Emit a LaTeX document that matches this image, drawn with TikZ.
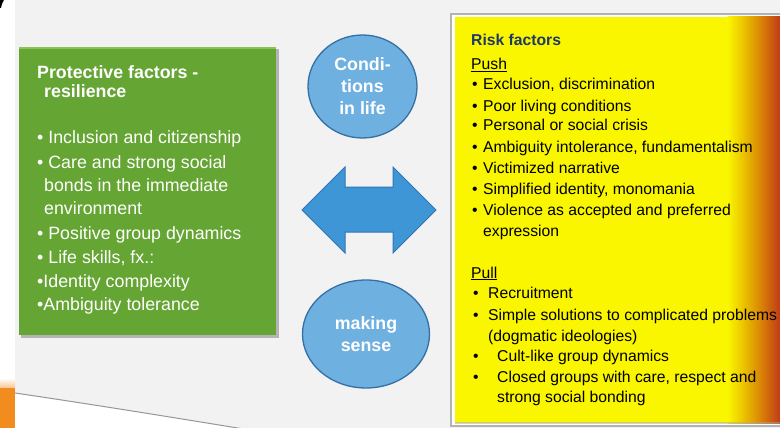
\documentclass[tikz,border=0pt]{standalone}
\usepackage{fontspec}
\setmainfont{Liberation Sans}
\usetikzlibrary{shapes.geometric}
\definecolor{bggrey}{RGB}{242,242,242}
\definecolor{boxgreen}{RGB}{101,165,51}
\definecolor{greenlight}{RGB}{140,196,82}
\definecolor{circfill}{RGB}{110,176,224}
\definecolor{circline}{RGB}{52,112,165}
\definecolor{arrfill}{RGB}{62,150,214}
\definecolor{arrline}{RGB}{48,118,180}
\definecolor{ylw}{RGB}{250,246,0}
\definecolor{ylw2}{RGB}{234,190,0}
\definecolor{orng}{RGB}{216,128,6}
\definecolor{redd}{RGB}{193,58,26}
\definecolor{riskblue}{RGB}{31,56,100}
\definecolor{orangebar}{RGB}{242,140,30}
\definecolor{curveline}{RGB}{150,150,150}
\newcommand\bul[1]{\makebox[#1pt][l]{•}}
\begin{document}
\begin{tikzpicture}[x=1pt,y=-1pt,
  gtext/.style={anchor=base west, inner sep=0, text=white, font=\fontsize{17.8}{21}\selectfont},
  gtitle/.style={gtext, font=\fontsize{17.8}{21}\selectfont\bfseries},
  ytext/.style={anchor=base west, inner sep=0, text=black, font=\fontsize{15.7}{19}\selectfont},
  ytitle/.style={ytext, text=riskblue, font=\fontsize{15.7}{19}\selectfont\bfseries},
  circ/.style={ellipse, draw=circline, line width=1.3pt, fill=circfill, inner sep=0,
    text=white, align=center, font=\fontsize{17.8}{22}\selectfont\bfseries}]
\useasboundingbox (0,0) rectangle (780,428);
% background
\fill[white] (0,0) rectangle (780,428);
\fill[bggrey] (15,0) rectangle (780,428);
\fill[white] (15,393) .. controls (90,404) and (170,417) .. (250,430) -- (15,430) -- cycle;
\draw[curveline, line width=1pt] (15,393) .. controls (90,404) and (170,417) .. (250,430);
\fill[orangebar] (0,387) rectangle (15,428);
\shade[top color=white, bottom color=orangebar!45] (0,378) rectangle (15,387);
\fill[black] (0,0) -- (4,0) -- (2,4) -- (1,8) -- (0,8) -- cycle;
% green box
\fill[black!45, opacity=0.6] (21,49) rectangle (279,338);
\fill[boxgreen] (19,47) rectangle (276,335);
\draw[greenlight, line width=2pt] (19,48) -- (276,48);
\node[gtitle] (gt1) at (37,79) {Protective factors -};
\node[gtitle] (gt2) at (44,98) {resilience};
\node[gtext] (g1) at (37,143) {• Inclusion and citizenship};
\node[gtext] (g2) at (37,168) {• Care and strong social};
\node[gtext] (g3) at (44,191) {bonds in the immediate};
\node[gtext] (g4) at (44,214) {environment};
\node[gtext] (g5) at (37,239) {• Positive group dynamics};
\node[gtext] (g6) at (37,263) {• Life skills, fx.:};
\node[gtext] (g7) at (37,287) {•Identity complexity};
\node[gtext] (g8) at (37,310) {•Ambiguity tolerance};
% circles
\node[circ, minimum width=109, minimum height=103] (c1) at (362.5,86.5) {Condi-\\tions\\in life};
\node[circ, minimum width=127, minimum height=108] (c2) at (366,334) {making\\sense};
% double arrow
\fill[arrfill, draw=arrline, line width=1pt, line join=miter]
  (302,210) -- (345,167) -- (345,187) -- (393,187) -- (393,167) -- (436,210)
  -- (393,253) -- (393,232) -- (345,232) -- (345,253) -- cycle;
% yellow box
\fill[black!30] (450,13) rectangle (780,427);
\fill[white] (452,15) rectangle (780,425);
\fill[ylw] (455,17) rectangle (728,423);
\shade[left color=ylw, right color=ylw2] (727.5,17) rectangle (745,423);
\shade[left color=ylw2, right color=orng] (744.5,17) rectangle (762,423);
\shade[left color=orng, right color=redd] (761.5,17) rectangle (780,423);
\draw[black!35, opacity=0.5, line width=1.5pt] (455,423) -- (780,423);
\node[ytitle] (rf) at (471,46) {Risk factors};
\node[ytext] (push) at (471,70) {\underline{Push}};
\node[ytext] (p1) at (472,90) {\bul{11}Exclusion, discrimination};
\node[ytext] (p2) at (472,111) {\bul{11}Poor living conditions};
\node[ytext] (p3) at (472,131) {\bul{11}Personal or social crisis};
\node[ytext] (p4) at (472,153) {\bul{11}Ambiguity intolerance, fundamentalism};
\node[ytext] (p5) at (472,173) {\bul{11}Victimized narrative};
\node[ytext] (p6) at (472,194) {\bul{11}Simplified identity, monomania};
\node[ytext] (p7) at (472,215) {\bul{11}Violence as accepted and preferred};
\node[ytext] (p8) at (483,236) {expression};
\node[ytext] (pull) at (471,278) {\underline{Pull}};
\node[ytext] (q1) at (473,298) {\bul{15}Recruitment};
\node[ytext] (q2) at (473,320) {\bul{15}Simple solutions to complicated problems};
\node[ytext] (q3) at (488,341) {(dogmatic ideologies)};
\node[ytext] (q4) at (473,361) {\bul{24}Cult-like group dynamics};
\node[ytext] (q5) at (473,382) {\bul{24}Closed groups with care, respect and};
\node[ytext] (q6) at (497,402) {strong social bonding};
\end{tikzpicture}
\end{document}
